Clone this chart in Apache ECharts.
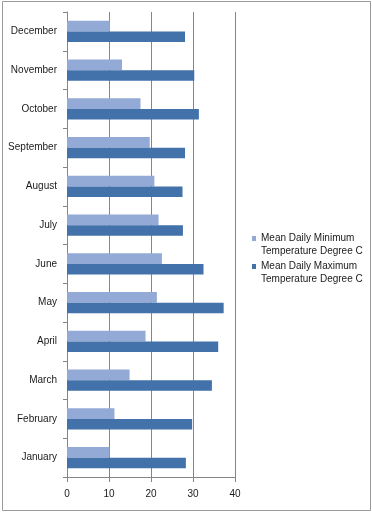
<!DOCTYPE html>
<html>
<head>
<meta charset="utf-8">
<script src="https://cdn.jsdelivr.net/npm/echarts@6/dist/echarts.min.js"></script>
<style>
html,body{margin:0;padding:0;background:#fff;}
#chart{width:372px;height:512px;}
</style>
</head>
<body>
<div id="chart"></div>
<script>
const months = ['January','February','March','April','May','June','July','August','September','October','November','December'];
const minTemp = [10.1, 11.3, 14.9, 18.7, 21.4, 22.6, 21.8, 20.8, 19.7, 17.5, 13.1, 10.2];
const maxTemp = [28.3, 29.8, 34.5, 36.0, 37.3, 32.5, 27.6, 27.5, 28.1, 31.4, 30.3, 28.1];
const xTicks = [0, 10, 20, 30, 40];
const minName = 'Mean Daily Minimum Temperature Degree C';
const maxName = 'Mean Daily Maximum Temperature Degree C';

const FONT = '"Liberation Sans", Arial, sans-serif';
const TEXT = '#1a1a1a';
const AXIS = '#868686';
const LIGHT = '#93AAD6';
const DARK = '#4372AA';

const chart = echarts.init(document.getElementById('chart'), null, {renderer: 'canvas'});
const legendBase = {
  orient: 'vertical',
  left: 247,
  itemWidth: 4,
  itemHeight: 5,
  icon: 'rect',
  selectedMode: false,
  formatter: function (n) { return '\n' + n.replace(' Temperature', '\nTemperature'); },
  textStyle: {fontFamily: FONT, fontSize: 10, color: TEXT, lineHeight: 13}
};
chart.setOption({
  animation: false,
  backgroundColor: '#fff',
  textStyle: {fontFamily: FONT},
  graphic: [{
    type: 'rect',
    shape: {x: 2.5, y: 1.5, width: 368, height: 509},
    style: {fill: 'none', stroke: '#9a9a9a', lineWidth: 1},
    silent: true
  }],
  legend: [
    Object.assign({}, legendBase, {top: 214, data: [minName]}),
    Object.assign({}, legendBase, {top: 242, data: [maxName]})
  ],
  grid: {left: 67, right: 137, top: 12, bottom: 35, containLabel: false},
  xAxis: {
    type: 'value',
    min: xTicks[0],
    max: xTicks[xTicks.length - 1],
    interval: xTicks[1] - xTicks[0],
    axisLine: {show: true, lineStyle: {color: AXIS, width: 1}},
    axisTick: {show: true, length: 5, lineStyle: {color: AXIS}},
    splitLine: {show: true, lineStyle: {color: AXIS, width: 1}},
    axisLabel: {color: TEXT, fontSize: 10, fontFamily: FONT, margin: 12}
  },
  yAxis: {
    type: 'category',
    data: months,
    axisLine: {show: true, lineStyle: {color: AXIS, width: 1}},
    axisTick: {show: true, length: 4, lineStyle: {color: AXIS}},
    splitLine: {show: false},
    axisLabel: {color: TEXT, fontSize: 10, fontFamily: FONT, margin: 10}
  },
  series: [
    {name: minName, type: 'bar', data: minTemp, itemStyle: {color: LIGHT}, barGap: '0%', barCategoryGap: '45%'},
    {name: maxName, type: 'bar', data: maxTemp, itemStyle: {color: DARK}, barGap: '0%', barCategoryGap: '45%'}
  ]
});
</script>
</body>
</html>
